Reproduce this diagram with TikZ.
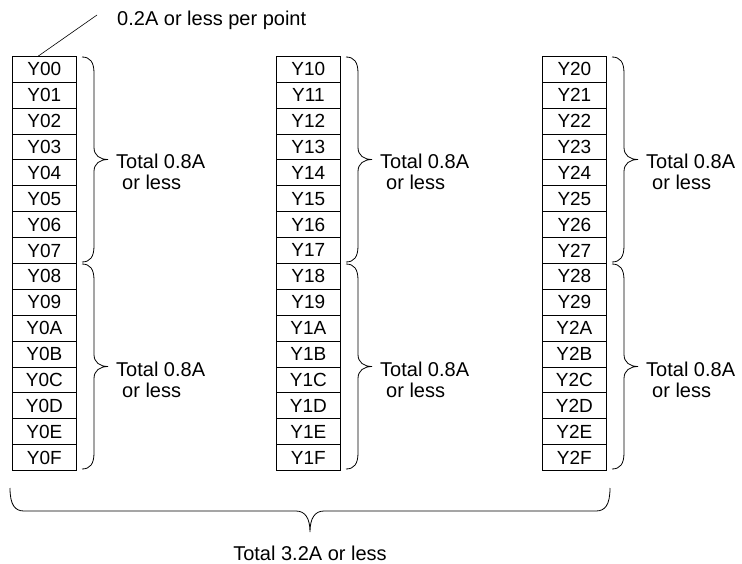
\documentclass[tikz,border=0pt]{standalone}
\usepackage{fontspec}
\setmainfont{Liberation Sans}
\usetikzlibrary{calc}

% curly brace opening to the right: x, top y, bottom y
\newcommand{\colbrace}[3]{%
    \draw[bracestyle] (#1,#2) .. controls (#1+8,#2) and (#1+12,#2+5) .. (#1+12,#2+16)
        -- (#1+12,{(#2+#3)/2-12}) .. controls (#1+12,{(#2+#3)/2-4}) and (#1+18,{(#2+#3)/2}) .. (#1+26,{(#2+#3)/2})
        .. controls (#1+18,{(#2+#3)/2}) and (#1+12,{(#2+#3)/2+4}) .. (#1+12,{(#2+#3)/2+12})
        -- (#1+12,#3-16) .. controls (#1+12,#3-5) and (#1+8,#3) .. (#1,#3);
}

\begin{document}
\begin{tikzpicture}[x=1pt, y=-1pt,
    cell/.style={draw=black, line width=0.8pt, minimum width=64pt, minimum height=25.875pt,
        inner sep=0pt, anchor=north west, font=\fontsize{19}{22}\selectfont},
    label/.style={font=\fontsize{20}{24}\selectfont, inner sep=0pt, anchor=base west},
    bracestyle/.style={line width=0.8pt}]
    \useasboundingbox (0,0) rectangle (742,564);
    % Output cells, three blocks of 16
    \foreach \col/\x in {0/12, 1/276, 2/542} {
        \foreach \r [count=\i from 0] in {0,1,2,3,4,5,6,7,8,9,A,B,C,D,E,F} {
            \node[cell] (Y\col\r) at (\x, 56+25.875*\i) {Y\col\r};
        }
        % Braces for each group of 8
        \colbrace{\x+70}{57}{262}
        \colbrace{\x+70}{264}{469}
        \node[label] (tot\col a) at (\x+104, 169) {Total 0.8A};
        \node[label] (less\col a) at (\x+110, 190) {or less};
        \node[label] (tot\col b) at (\x+104, 376) {Total 0.8A};
        \node[label] (less\col b) at (\x+110, 397) {or less};
    }
    % Per-point note
    \node[label] (perpoint) at (117, 26) {0.2A or less per point};
    \coordinate (lead) at (97, 15);
    \draw[line width=0.6pt] (lead) -- ($(Y00.north)+(-6,0)$);
    % Overall brace
    \draw[bracestyle] (10,488) .. controls (10,505) and (15,511) .. (24,511)
        -- (296,511) .. controls (305,511) and (310,518) .. (310,532)
        .. controls (310,518) and (315,511) .. (324,511)
        -- (596,511) .. controls (605,511) and (610,505) .. (610,488);
    \node[font=\fontsize{20}{24}\selectfont, inner sep=0pt, anchor=base] (total) at (310, 560) {Total 3.2A or less};
\end{tikzpicture}
\end{document}
